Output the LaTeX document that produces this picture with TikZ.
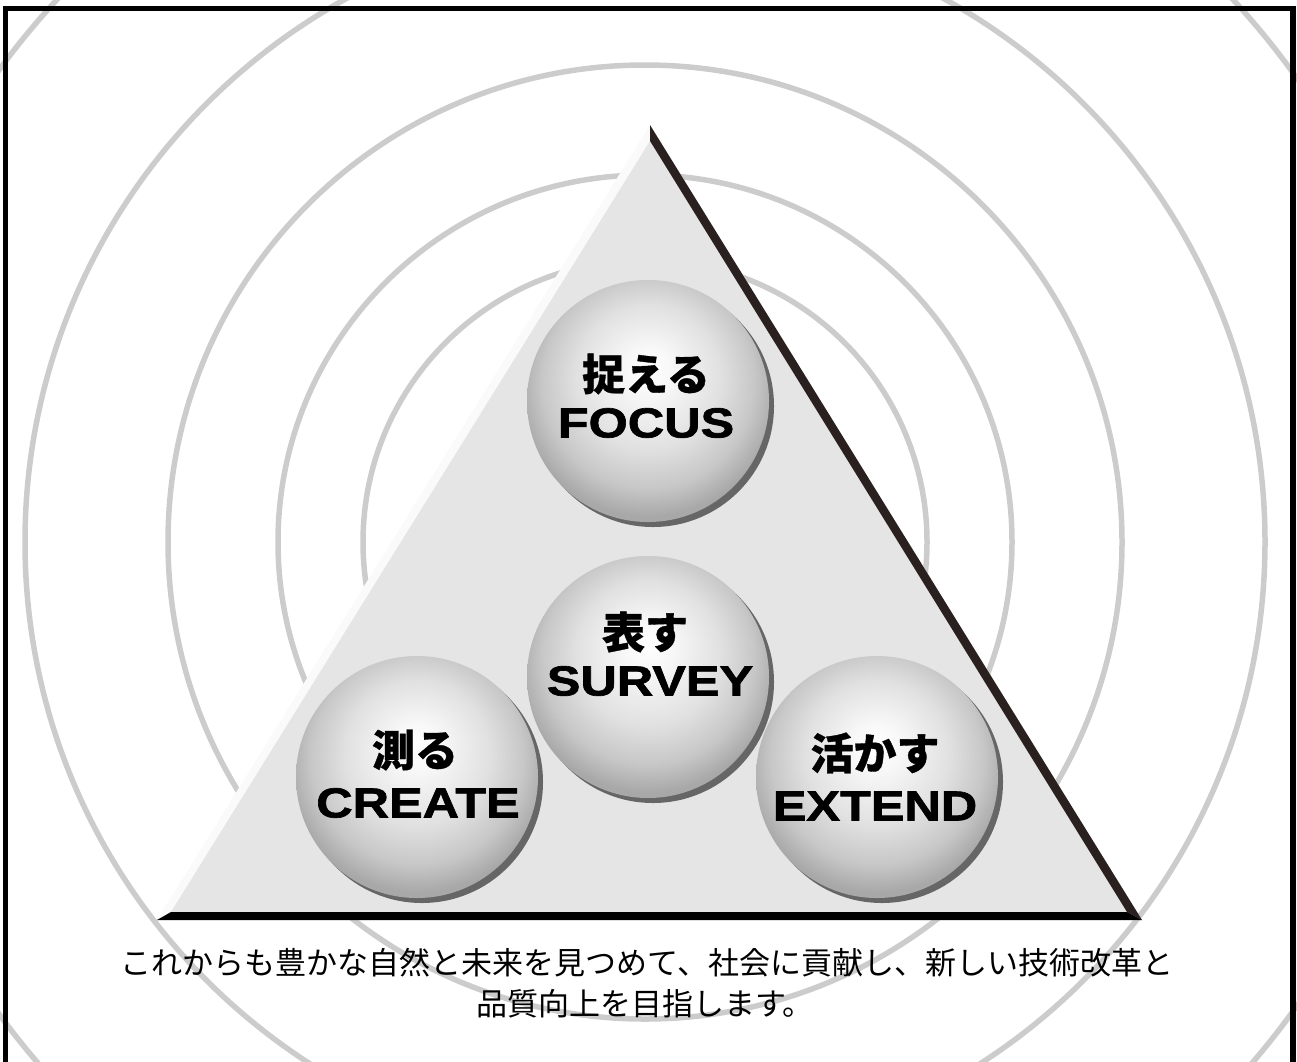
\documentclass[tikz,border=0pt]{standalone}
\usepackage{fontspec}
\newfontfamily\jpfont{Noto Sans CJK JP}[BoldFeatures={FakeBold=0.8}]
\newfontfamily\latfont{Liberation Sans}[FakeStretch=1.2,BoldFeatures={FakeBold=1.6}]
\usetikzlibrary{shadows,calc}
\definecolor{edgedark}{RGB}{43,32,32}
\pgfdeclareradialshading{sph}{\pgfpoint{0bp}{7bp}}{color(0bp)=(black!0); color(5bp)=(black!3); color(15bp)=(black!12); color(22bp)=(black!22); color(27bp)=(black!34); color(50bp)=(black!34)}
\begin{document}
\begin{tikzpicture}[x=1pt,y=-1pt,
  ring/.style={draw=black!20,line width=5.5pt},
  ball/.style={circle,minimum size=242pt,inner sep=0pt,shading=sph,
    drop shadow={shadow xshift=5pt,shadow yshift=-5pt,fill=black!60,opacity=1}},
  jplbl/.style={inner sep=0pt,font=\jpfont\bfseries\fontsize{43}{43}\selectfont},
  enlbl/.style={inner sep=0pt,font=\latfont\bfseries\fontsize{42}{42}\selectfont},
  captxt/.style={inner sep=0pt,font=\jpfont\fontsize{31}{31}\selectfont}]
\useasboundingbox (0,0) rectangle (1297,1061);
\clip (0,0) rectangle (1297,1061);
% concentric rings
\coordinate (c) at (645,542);
\foreach \r in {282,367,477,620,800} \draw[ring] (c) circle[radius=\r pt];
% triangle
\coordinate (ta) at (650,125); \coordinate (tl) at (157,920); \coordinate (tr) at (1142,920);
\coordinate (ia) at (650,141); \coordinate (il) at (171,912); \coordinate (ir) at (1127,912);
\fill[black!2] (ta)--(tl)--(tr)--cycle;
\fill[black!10] (ia)--(il)--(ir)--cycle;
\fill[edgedark] (ta)--(tr)--(ir)--(ia)--cycle;
\fill[black] (tl)--(tr)--(ir)--(il)--cycle;
% spheres
\node[ball] (focus) at (648,401) {};
\node[ball] (survey) at (648,677) {};
\node[ball] (create) at (417,777) {};
\node[ball] (extend) at (877,777) {};
% labels
\node[jplbl] (focusjp) at (646,374) {捉える};
\node[enlbl] (focusen) at (646,423) {FOCUS};
\node[jplbl] (surveyjp) at (645,632) {表す};
\node[enlbl] (surveyen) at (650,681) {SURVEY};
\node[jplbl] (createjp) at (415,750) {測る};
\node[enlbl] (createen) at (418,803) {CREATE};
\node[jplbl] (extendjp) at (875,753) {活かす};
\node[enlbl] (extenden) at (875,806) {EXTEND};
% caption
\node[captxt] (cap1) at (647,963) {これからも豊かな自然と未来を見つめて、社会に貢献し、新しい技術改革と};
\node[captxt] (cap2) at (645,1004) {品質向上を目指します。};
% frame
\draw[line width=5.5pt] (5.5,1100) -- (5.5,8.5) -- (1293,8.5) -- (1293,1100);
\end{tikzpicture}
\end{document}
